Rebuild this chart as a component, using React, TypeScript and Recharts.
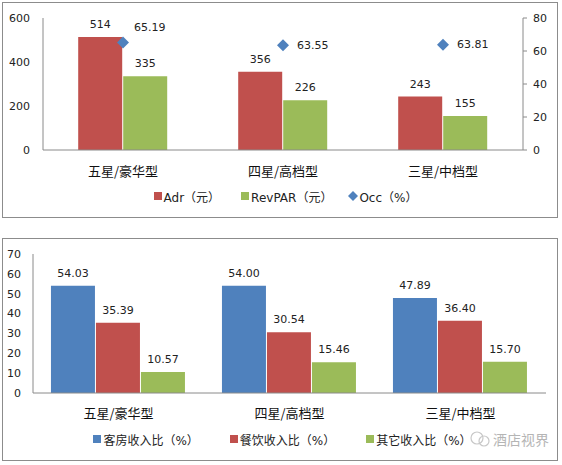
import React from 'react'
import { ComposedChart, BarChart, Bar, Line, XAxis, YAxis, Legend, LabelList } from 'recharts'

// top chart: price indicators by hotel class
const CATEGORIES = ['五星/豪华型', '四星/高档型', '三星/中档型']
const ADR = [514, 356, 243]
const REVPAR = [335, 226, 155]
const OCC = [65.19, 63.55, 63.81]
const LEFT_TICKS = [0, 200, 400, 600]
const RIGHT_TICKS = [0, 20, 40, 60, 80]
const TOP_NAMES = ['Adr（元）', 'RevPAR（元）', 'Occ（%）']

// bottom chart: revenue mix
const ROOM = [54.03, 54.0, 47.89]
const FOOD = [35.39, 30.54, 36.4]
const OTHER = [10.57, 15.46, 15.7]
const MIX_TICKS = [0, 10, 20, 30, 40, 50, 60, 70]
const MIX_NAMES = ['客房收入比（%）', '餐饮收入比（%）', '其它收入比（%）']

const topData = CATEGORIES.map((name, i) => ({ name, adr: ADR[i], revpar: REVPAR[i], occ: OCC[i] }))
const mixData = CATEGORIES.map((name, i) => ({ name, room: ROOM[i], food: FOOD[i], other: OTHER[i] }))

const RED = '#C0504D'
const GREEN = '#9BBB59'
const BLUE = '#4F81BD'
const AXIS = '#8a8a8a'
const NUM_FONT = '"DejaVu Sans", Verdana, sans-serif'
const CJK_FONT = '"Noto Sans CJK SC", sans-serif'

const numTick = { fill: '#222', fontSize: 11, fontFamily: NUM_FONT }
const catTick = { fill: '#111', fontSize: 13, fontFamily: CJK_FONT }

function Diamond({ cx, cy, r = 6, fill }: any) {
  if (cx == null || cy == null) return null
  return <polygon points={`${cx},${cy - r} ${cx + r},${cy} ${cx},${cy + r} ${cx - r},${cy}`} fill={fill} />
}

function OccLabel(props: any) {
  const { x, y, value, index } = props
  // first label sits above-right so it clears the bar
  const dx = index === 0 ? 11 : 14
  const dy = index === 0 ? -15 : 0
  return (
    <text x={x + dx} y={y + dy} dominantBaseline="central" fill="#222" fontSize={11} fontFamily={NUM_FONT}>
      {Number(value).toFixed(2)}
    </text>
  )
}

function LegendRow({ payload, gaps, order, shift }: any) {
  const items = [...(payload || [])].sort((a: any, b: any) => order.indexOf(a.value) - order.indexOf(b.value))
  return (
    <div
      style={{
        display: 'flex',
        justifyContent: 'center',
        alignItems: 'center',
        height: 32,
        paddingBottom: 5,
        paddingLeft: shift,
        fontSize: 12,
        fontFamily: `${NUM_FONT.split(',')[0]}, ${CJK_FONT}`,
        color: '#222',
      }}
    >
      {items.map((p: any, i: number) => (
        <div key={p.value} style={{ display: 'flex', alignItems: 'center', marginLeft: gaps[i] }}>
          {p.type === 'diamond' ? (
            <svg width={10} height={10} style={{ marginRight: 1 }}>
              <Diamond cx={5} cy={5} r={5} fill={BLUE} />
            </svg>
          ) : (
            <span style={{ width: 8, height: 8, background: p.color, marginRight: 2, display: 'inline-block' }} />
          )}
          <span>{p.value}</span>
        </div>
      ))}
    </div>
  )
}

const box = (top: number, height: number): React.CSSProperties => ({
  position: 'absolute',
  left: 2,
  top,
  width: 554,
  height,
  border: '1px solid #8c8c8c',
  background: '#fff',
})

export default function App() {
  return (
    <div>
      <div style={box(2, 214)}>
        <ComposedChart
          width={554}
          height={214}
          data={topData}
          margin={{ top: 15, right: 0, left: 0, bottom: 0 }}
          barCategoryGap="22%"
          barGap={1}
        >
          <XAxis
            dataKey="name"
            stroke={AXIS}
            tickLine={false}
            tickMargin={11}
            height={30}
            tick={catTick}
            interval={0}
          />
          <YAxis
            yAxisId="left"
            domain={[0, 600]}
            ticks={LEFT_TICKS}
            width={40}
            stroke={AXIS}
            tickLine={false}
            tickMargin={7}
            tick={numTick}
          />
          <YAxis
            yAxisId="right"
            orientation="right"
            domain={[0, 80]}
            ticks={RIGHT_TICKS}
            width={34}
            stroke={AXIS}
            tickSize={4}
            tickMargin={6}
            tick={numTick}
          />
          <Legend
            verticalAlign="bottom"
            content={(p: any) => <LegendRow {...p} gaps={[0, 21, 16]} shift={11} order={TOP_NAMES} />}
          />
          <Bar yAxisId="left" dataKey="adr" name={TOP_NAMES[0]} fill={RED} isAnimationActive={false}>
            <LabelList dataKey="adr" position="top" offset={9} fill="#222" fontSize={11} fontFamily={NUM_FONT} />
          </Bar>
          <Bar yAxisId="left" dataKey="revpar" name={TOP_NAMES[1]} fill={GREEN} isAnimationActive={false}>
            <LabelList dataKey="revpar" position="top" offset={9} fill="#222" fontSize={11} fontFamily={NUM_FONT} />
          </Bar>
          <Line
            yAxisId="right"
            dataKey="occ"
            name={TOP_NAMES[2]}
            stroke={BLUE}
            strokeWidth={0}
            legendType="diamond"
            dot={(p: any) => <Diamond key={p.index} cx={p.cx} cy={p.cy} r={6} fill={BLUE} />}
            activeDot={false}
            isAnimationActive={false}
          >
            <LabelList dataKey="occ" content={OccLabel} />
          </Line>
        </ComposedChart>
      </div>

      <div style={box(238, 221)}>
        <BarChart
          width={554}
          height={221}
          data={mixData}
          margin={{ top: 15, right: 11, left: 0, bottom: 0 }}
          barCategoryGap="10.5%"
          barGap={1}
        >
          <XAxis
            dataKey="name"
            stroke={AXIS}
            tickLine={false}
            tickMargin={10}
            height={30}
            tick={catTick}
            interval={0}
          />
          <YAxis
            domain={[0, 70]}
            ticks={MIX_TICKS}
            width={30}
            stroke={AXIS}
            tickLine={false}
            tickMargin={6}
            tick={numTick}
          />
          <Legend
            verticalAlign="bottom"
            content={(p: any) => <LegendRow {...p} gaps={[0, 31, 31]} shift={16} order={MIX_NAMES} />}
          />
          <Bar dataKey="room" name={MIX_NAMES[0]} fill={BLUE} isAnimationActive={false}>
            <LabelList dataKey="room" position="top" offset={9} formatter={(v: any) => Number(v).toFixed(2)} fill="#222" fontSize={11} fontFamily={NUM_FONT} />
          </Bar>
          <Bar dataKey="food" name={MIX_NAMES[1]} fill={RED} isAnimationActive={false}>
            <LabelList dataKey="food" position="top" offset={9} formatter={(v: any) => Number(v).toFixed(2)} fill="#222" fontSize={11} fontFamily={NUM_FONT} />
          </Bar>
          <Bar dataKey="other" name={MIX_NAMES[2]} fill={GREEN} isAnimationActive={false}>
            <LabelList dataKey="other" position="top" offset={9} formatter={(v: any) => Number(v).toFixed(2)} fill="#222" fontSize={11} fontFamily={NUM_FONT} />
          </Bar>
        </BarChart>
        {/* watermark */}
        <div
          style={{
            position: 'absolute',
            left: 466,
            top: 190,
            display: 'flex',
            alignItems: 'center',
            color: '#b5b5b5',
            fontSize: 14,
            fontFamily: CJK_FONT,
            background: 'rgba(255,255,255,0.6)',
          }}
        >
          <svg width={22} height={20} style={{ marginRight: 2 }}>
            <circle cx={8} cy={9} r={6} fill="none" stroke="#c8c8c8" strokeWidth={1.2} />
            <circle cx={15} cy={12} r={5} fill="none" stroke="#c8c8c8" strokeWidth={1.2} />
          </svg>
          <span>酒店视界</span>
        </div>
      </div>
    </div>
  )
}
